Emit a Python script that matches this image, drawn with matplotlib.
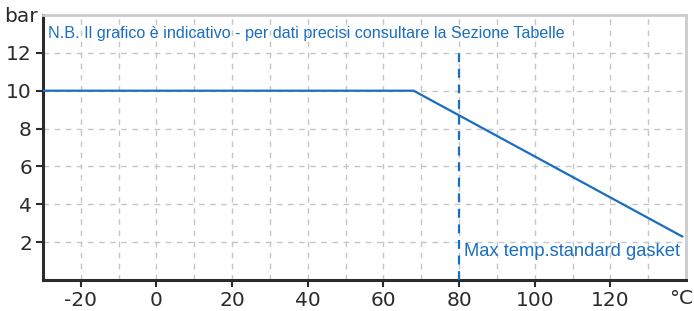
import matplotlib.pyplot as plt
from matplotlib.ticker import MultipleLocator

plt.rcParams["axes.unicode_minus"] = False

# Pressure / temperature curve
temp_c = [-30, 68, 139]
pressure_bar = [10, 10, 2.3]

x_ticks = [-20, 0, 20, 40, 60, 80, 100, 120]
y_ticks = [2, 4, 6, 8, 10, 12]
max_temp_gasket = 80

blue = "#1a6ec0"
dark = "#2b2b2b"
grid_col = "#c4c6c9"

fig = plt.figure(figsize=(6.94, 3.11), dpi=100)
ax = fig.add_axes([43 / 694, 1 - 280 / 311, (686 - 43) / 694, (280 - 15) / 311])

ax.plot(temp_c, pressure_bar, color=blue, lw=1.6, zorder=3)
ax.plot([max_temp_gasket, max_temp_gasket], [0, 12], color=blue, lw=1.6,
        ls=(0, (4, 3)), zorder=3)

ax.set_xlim(-30, 140)
ax.set_ylim(0, 14)
ax.set_xticks(x_ticks)
ax.set_yticks(y_ticks)
ax.xaxis.set_minor_locator(MultipleLocator(10))
ax.grid(True, axis="x", which="both", color=grid_col, ls=(0, (4, 4)), lw=1)
ax.grid(True, axis="y", which="major", color=grid_col, ls=(0, (4, 4)), lw=1)
ax.tick_params(axis="x", which="minor", length=0)
ax.tick_params(which="major", length=5, width=1.5, color=dark,
               labelsize=14.5, labelcolor=dark, pad=3)
for lbl in ax.get_xticklabels() + ax.get_yticklabels():
    lbl.set_family("DejaVu Sans")

ax.spines["left"].set_color(dark)
ax.spines["bottom"].set_color(dark)
ax.spines["left"].set_linewidth(2.2)
ax.spines["bottom"].set_linewidth(2.2)
ax.spines["top"].set_color("#c9cbce")
ax.spines["right"].set_color("#c9cbce")
ax.spines["top"].set_linewidth(2)
ax.spines["right"].set_linewidth(2)

ax.text(-28.6, 13.0, "N.B. Il grafico è indicativo - per dati precisi consultare la Sezione Tabelle",
        color=blue, fontsize=11.6, family="Liberation Sans", va="center", ha="left")
ax.text(81.3, 1.5, "Max temp.standard gasket", color=blue, fontsize=13.2,
        family="Liberation Sans", va="center", ha="left")

fig.text(4 / 694, 1 - 16 / 311, "bar", fontsize=14.5, color=dark, family="DejaVu Sans",
         va="center", ha="left")
fig.text(693 / 694, 1 - 298 / 311, "°C", fontsize=14.5, color=dark, family="DejaVu Sans",
         va="center", ha="right")

fig.savefig("out.png", dpi=100)
